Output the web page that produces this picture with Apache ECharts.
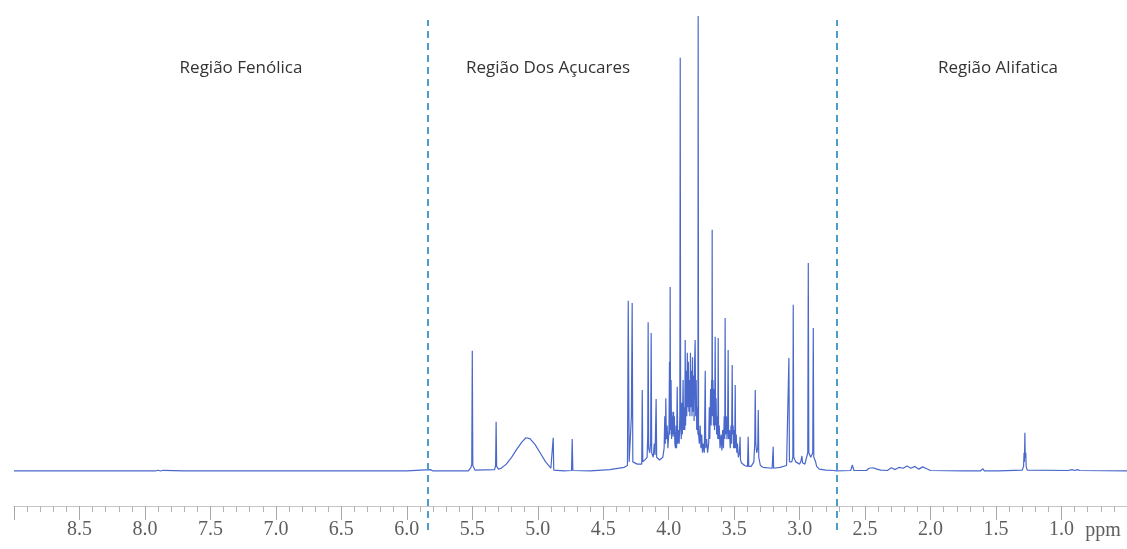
<!DOCTYPE html>
<html>
<head>
<meta charset="utf-8">
<script src="https://cdn.jsdelivr.net/npm/echarts@6/dist/echarts.min.js"></script>
<style>
  html, body { margin: 0; padding: 0; background: #fff; }
  #chart { width: 1127px; height: 549px; }
</style>
</head>
<body>
<div id="chart"></div>
<script>
// 1H NMR spectrum: chemical shift (ppm) vs. relative intensity, high ppm on the left
const spectrum = [
  [9.00, 0], [7.92, 0], [7.90, 0.15], [7.88, 0], [7.86, 0.15], [7.70, 0],
  [7.04, 0], [7.03, 0.4], [7.02, 0], [6.00, 0], [5.82, 0.3], [5.80, 0],
  [5.53, 0], [5.51, 0.8], [5.504, 1.5], [5.500, 26.4], [5.496, 1.2], [5.48, 0.2],
  [5.33, 0.3], [5.322, 1.2], [5.318, 10.8], [5.314, 1], [5.30, 0.4],
  [5.28, 0.6], [5.24, 1.5], [5.20, 3.0], [5.16, 4.8], [5.12, 6.4], [5.09, 7.3],
  [5.06, 7.1], [5.02, 5.8], [4.98, 3.9], [4.94, 2.0], [4.90, 0.6], [4.886, 0.3],
  [4.882, 7.3], [4.878, 0.2], [4.80, 0], [4.742, 0.1], [4.737, 7.0], [4.732, 0.1],
  [4.60, 0], [4.45, 0.3], [4.34, 0.8],
  [4.315, 1.2], [4.309, 37.4], [4.302, 2], [4.290, 1.8], [4.285, 12], [4.279, 36.9],
  [4.274, 2], [4.24, 1.5], [4.206, 1.5], [4.202, 17.8], [4.198, 2], [4.180, 2.5],
  [4.165, 3], [4.160, 8], [4.157, 32.7], [4.153, 5], [4.145, 4], [4.138, 6],
  [4.134, 30.3], [4.130, 4], [4.118, 3], [4.110, 6], [4.104, 3.5], [4.096, 15.8],
  [4.092, 3], [4.080, 2.6], [4.075, 2.6], [4.070, 2.4], [4.045, 3.0],
  [4.035, 5], [4.030, 12], [4.026, 6], [4.022, 16], [4.018, 7], [4.012, 10], [4.006, 5],
  [3.998, 9], [3.994, 24], [3.991, 8], [3.989, 40.4], [3.986, 9], [3.982, 20], [3.978, 7],
  [3.975, 13], [3.972, 8], [3.969, 12], [3.966, 7.5], [3.963, 13], [3.960, 8],
  [3.957, 12], [3.953, 6], [3.948, 5], [3.944, 10], [3.940, 5], [3.935, 18.5],
  [3.931, 6], [3.925, 9], [3.920, 6], [3.915, 12], [3.912, 90.8], [3.909, 10],
  [3.904, 7], [3.900, 15], [3.896, 8], [3.890, 20], [3.886, 9], [3.880, 14],
  [3.877, 9], [3.874, 28.8], [3.871, 10], [3.866, 22], [3.862, 12], [3.858, 26],
  [3.854, 14], [3.850, 24], [3.846, 13], [3.842, 20], [3.838, 12], [3.834, 26],
  [3.830, 14], [3.826, 22], [3.822, 12], [3.818, 25], [3.814, 13], [3.810, 21],
  [3.806, 11], [3.802, 24], [3.798, 28.8], [3.794, 12], [3.790, 20], [3.786, 9],
  [3.780, 14], [3.777, 8], [3.775, 100], [3.772, 8], [3.766, 6], [3.760, 10],
  [3.754, 5], [3.748, 8], [3.742, 4], [3.735, 6], [3.728, 4], [3.721, 22],
  [3.717, 5], [3.710, 7], [3.703, 4], [3.695, 6], [3.690, 14], [3.686, 7],
  [3.680, 18], [3.676, 10], [3.672, 20], [3.670, 12], [3.668, 53], [3.666, 12],
  [3.662, 20], [3.658, 10], [3.654, 18], [3.650, 9], [3.645, 29.5], [3.642, 10],
  [3.638, 16], [3.634, 8], [3.628, 12], [3.625, 7], [3.622, 29.2], [3.619, 7],
  [3.614, 10], [3.608, 5], [3.600, 8], [3.594, 4.5], [3.588, 9], [3.582, 5],
  [3.576, 12], [3.572, 7], [3.569, 33.6], [3.566, 8], [3.560, 12], [3.555, 7],
  [3.550, 10], [3.546, 26.6], [3.543, 7], [3.536, 9], [3.530, 5], [3.524, 10],
  [3.520, 6], [3.515, 23.3], [3.512, 8], [3.508, 10], [3.504, 5], [3.500, 9],
  [3.496, 5], [3.492, 18.9], [3.489, 5], [3.484, 8], [3.480, 4], [3.475, 6],
  [3.468, 3], [3.460, 4], [3.455, 7.5], [3.452, 2.5], [3.445, 1.8], [3.420, 1.2],
  [3.398, 1], [3.393, 7.5], [3.389, 1], [3.370, 1], [3.350, 2], [3.343, 6],
  [3.339, 17.8], [3.335, 6], [3.328, 4], [3.320, 5], [3.316, 13.4], [3.312, 3],
  [3.300, 1.2], [3.280, 0.8], [3.210, 0.6], [3.205, 0.8], [3.202, 5.3], [3.199, 0.6],
  [3.150, 0.8], [3.100, 1.2], [3.086, 1.5], [3.082, 24.8], [3.078, 2], [3.060, 2],
  [3.052, 3], [3.049, 36.5], [3.045, 3], [3.030, 2], [3.000, 1.5], [2.990, 2.2],
  [2.983, 3.3], [2.978, 1.8], [2.960, 1.5], [2.945, 1.8], [2.938, 4], [2.934, 45.7],
  [2.930, 4], [2.915, 3], [2.900, 4], [2.896, 31.4], [2.892, 3], [2.880, 2.2],
  [2.870, 1], [2.850, 0.4], [2.800, 0.2], [2.740, 0.1],
  [2.72, 0], [2.61, 0.1], [2.598, 1.3], [2.585, 0.1], [2.49, 0.1], [2.47, 0.6],
  [2.44, 0.7], [2.41, 0.4], [2.38, 0.2], [2.33, 0.1], [2.30, 0.7], [2.27, 0.3],
  [2.24, 0.8], [2.21, 0.6], [2.18, 1.1], [2.15, 0.6], [2.12, 1.0], [2.09, 0.4],
  [2.06, 0.9], [2.03, 0.5], [2.00, 0.1], [1.75, 0], [1.735, 0.2], [1.72, 0],
  [1.62, 0], [1.60, 0.5], [1.59, 0], [1.50, 0], [1.49, 0.3], [1.48, 0],
  [1.30, 0.2], [1.290, 1], [1.286, 4], [1.283, 2], [1.280, 8.4], [1.277, 3],
  [1.273, 4], [1.270, 1], [1.262, 0.2], [0.95, 0.1], [0.92, 0.3], [0.90, 0.1],
  [0.88, 0.3], [0.86, 0.1], [0.50, 0]
];

// Region boundaries (ppm) and region names
const regionBounds = [5.837, 2.72];
const regionNames = ['Região Fenólica', 'Região Dos Açucares', 'Região Alifatica'];
const regionLabelX = [241, 548, 998];

const ppmMin = 0.5;
const ppmMax = 9.0;

const chart = echarts.init(document.getElementById('chart'), null, { renderer: 'canvas' });

const option = {
  backgroundColor: '#ffffff',
  animation: false,
  grid: [
    { left: 14, right: 0, top: 10, bottom: 43 },
    { left: 14, right: 0, top: 20, bottom: 19 }
  ],
  xAxis: [
    {
      type: 'value', gridIndex: 0, inverse: true,
      min: ppmMin, max: ppmMax, interval: 0.5,
      axisLine: { show: true, onZero: false, lineStyle: { color: '#c4c4c4', width: 1 } },
      axisTick: { show: true, inside: false, length: 14, lineStyle: { color: '#a8a8a8' } },
      minorTick: { show: true, splitNumber: 5, length: 6, lineStyle: { color: '#b4b4b4' } },
      splitLine: { show: false },
      axisLabel: {
        showMinLabel: false, showMaxLabel: false, margin: 14,
        fontFamily: '"Liberation Serif", serif', fontSize: 20, color: '#5e5e5e',
        formatter: v => v.toFixed(1)
      }
    },
    {
      type: 'value', gridIndex: 1, inverse: true, min: ppmMin, max: ppmMax, show: false
    }
  ],
  yAxis: [
    { type: 'value', gridIndex: 0, min: -7.7, max: 101.3, show: false },
    { type: 'value', gridIndex: 1, min: 0, max: 1, show: false }
  ],
  series: [
    {
      name: 'spectrum', type: 'line', xAxisIndex: 0, yAxisIndex: 0,
      data: spectrum, symbol: 'none', smooth: false,
      lineStyle: { color: '#4a68cc', width: 1.2 },
      silent: true
    },
    {
      name: 'regions', type: 'line', xAxisIndex: 1, yAxisIndex: 1,
      data: [[ppmMax, 0]], symbol: 'none', lineStyle: { opacity: 0 },
      silent: true,
      markLine: {
        silent: true, symbol: ['none', 'none'],
        label: { show: false },
        lineStyle: { color: '#4f9bc9', width: 2, type: [7, 5] },
        data: regionBounds.map(b => ({ xAxis: b }))
      }
    }
  ],
  graphic: [
    ...regionNames.map((t, i) => ({
      type: 'text', x: regionLabelX[i], y: 68,
      style: {
        text: t,
        font: '17px "Open Sans", sans-serif', fill: '#333333',
        textAlign: 'center', textVerticalAlign: 'middle'
      }
    })),
    {
      type: 'text', x: 1103, y: 531,
      style: {
        text: 'ppm', font: '20px "Liberation Serif", serif', fill: '#5e5e5e',
        textAlign: 'center', textVerticalAlign: 'middle'
      }
    }
  ]
};

chart.setOption(option);
</script>
</body>
</html>
